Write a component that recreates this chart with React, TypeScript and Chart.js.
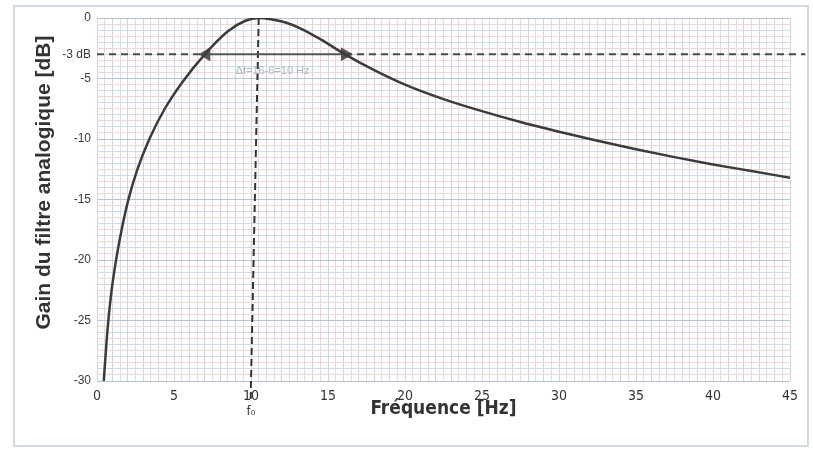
import React, { useEffect, useRef } from "react";
import { Chart, registerables } from "chart.js";

Chart.register(...registerables);

// ---- Data ----
const freqHz = [
  0.44, 0.55, 0.7, 0.9, 1.2, 1.6, 2.0, 2.6, 3.4, 4.4, 5.6, 7.0, 8.5, 9.6, 10.5,
  11.3, 12.2, 13.2, 14.5, 16.1, 18, 20, 22.5, 25, 27.5, 30, 32.5, 35, 37.5, 40, 42.5, 45,
];
const gainDb = [
  -30, -28, -25.5, -23, -20.3, -17.5, -15.2, -12.6, -10, -7.5, -5.2, -3, -1.1, -0.25, 0,
  -0.1, -0.35, -0.85, -1.75, -3, -4.3, -5.5, -6.7, -7.7, -8.6, -9.4, -10.15, -10.85, -11.5, -12.1, -12.65, -13.2,
];

const xTickValues = [0, 5, 10, 15, 20, 25, 30, 35, 40, 45];
const yTickValues = [0, -3, -5, -10, -15, -20, -25, -30];
const yTickLabels = ["0", "-3 dB", "-5", "-10", "-15", "-20", "-25", "-30"];

const cutoffDb = -3;
const lowCutHz = 7.1;
const highCutHz = 16.1;
const dashEndHz = 46;
const peakHz = 10.5;
const peakDb = 0;
const f0BaseHz = 10.0;
const f0TailHz = 9.98;
const f0TailDb = -31.7;
const bandwidthLabel = "Δf=16-6=10 Hz";
const bandwidthLabelPos = { x: 11.4, y: -4.4 };

const X_TITLE = "Fréquence [Hz]";
const Y_TITLE = "Gain du filtre analogique [dB]";

const NARROW = "'Liberation Sans Narrow', 'DejaVu Sans Condensed', 'Liberation Sans', sans-serif";
const SANS = "'Liberation Sans', Arial, sans-serif";

const extrasPlugin = {
  id: "extras",
  beforeDraw(chart: any) {
    const { ctx } = chart;
    ctx.save();
    ctx.fillStyle = "#ffffff";
    ctx.fillRect(0, 0, chart.width, chart.height);
    ctx.strokeStyle = "#d4dae1";
    ctx.lineWidth = 2;
    ctx.strokeRect(14, 6, 794, 440);
    ctx.restore();
  },
  afterDraw(chart: any) {
    const { ctx, chartArea, scales } = chart;
    const xs = scales.x;
    const ys = scales.y;
    ctx.save();
    // y title
    ctx.translate(44, (chartArea.top + chartArea.bottom) / 2 - 17);
    ctx.rotate(-Math.PI / 2);
    ctx.font = "bold 21px " + SANS;
    ctx.fillStyle = "#333333";
    ctx.textAlign = "center";
    ctx.textBaseline = "middle";
    ctx.fillText(Y_TITLE, 0, 0);
    ctx.restore();

    ctx.save();
    // f0 label
    ctx.font = "13px " + NARROW;
    ctx.fillStyle = "#333333";
    ctx.textAlign = "center";
    ctx.textBaseline = "middle";
    ctx.fillText("f₀", xs.getPixelForValue(f0BaseHz), chartArea.bottom + 31);
    // bandwidth label
    ctx.font = "11px " + SANS;
    ctx.fillStyle = "#aab6c6";
    ctx.fillText(
      bandwidthLabel,
      xs.getPixelForValue(bandwidthLabelPos.x),
      ys.getPixelForValue(bandwidthLabelPos.y)
    );
    ctx.restore();
  },
};

export default function App() {
  const ref = useRef<HTMLCanvasElement | null>(null);

  useEffect(() => {
    if (!ref.current) return;
    const curve = freqHz.map((x, i) => ({ x, y: gainDb[i] }));
    const chart = new Chart(ref.current, {
      type: "line",
      data: {
        datasets: [
          {
            data: curve,
            borderColor: "#3b3b3b",
            borderWidth: 2.5,
            pointRadius: 0,
            cubicInterpolationMode: "monotone",
            fill: false,
          },
          {
            data: [
              { x: 0, y: cutoffDb },
              { x: lowCutHz, y: cutoffDb },
              { x: (lowCutHz + highCutHz) / 2, y: null },
              { x: highCutHz, y: cutoffDb },
              { x: dashEndHz, y: cutoffDb },
            ],
            borderColor: "#4a4a4a",
            borderWidth: 2,
            borderDash: [7, 5],
            pointRadius: 0,
            spanGaps: false,
            clip: false,
          },
          {
            data: [
              { x: lowCutHz, y: cutoffDb },
              { x: highCutHz, y: cutoffDb },
            ],
            borderColor: "#555555",
            backgroundColor: "#555555",
            borderWidth: 2,
            pointStyle: "triangle",
            pointRadius: 6,
            pointRotation: (c: any) => (c.dataIndex === 0 ? -90 : 90),
          },
          {
            data: [
              { x: peakHz, y: peakDb },
              { x: f0BaseHz, y: -30 },
              { x: f0TailHz, y: f0TailDb },
            ],
            borderColor: "#333333",
            borderWidth: 2,
            borderDash: [7, 4],
            pointRadius: 0,
            clip: false,
          },
        ],
      },
      options: {
        animation: false,
        responsive: false,
        events: [],
        layout: { padding: { left: 0, top: 18, right: 23, bottom: 0 } },
        plugins: { legend: { display: false }, tooltip: { enabled: false }, title: { display: false } },
        scales: {
          x: {
            type: "linear",
            min: 0,
            max: 45,
            afterBuildTicks: (s: any) => {
              const t = [];
              for (let i = 0; i <= 90; i++) t.push({ value: i / 2 });
              s.ticks = t;
            },
            afterFit: (s: any) => {
              s.height = 78;
            },
            border: { display: false },
            grid: {
              drawTicks: false,
              lineWidth: 1,
              color: (c: any) =>
                c.tick && Number.isInteger(c.tick.value) ? "#c9d6e6" : "#f1d6dc",
            },
            ticks: {
              autoSkip: false,
              maxRotation: 0,
              padding: 7,
              color: "#333333",
              font: { family: NARROW, size: 14 },
              callback: (v: any) => (xTickValues.includes(v) ? String(v) : ""),
            },
            title: {
              display: true,
              text: X_TITLE,
              color: "#333333",
              font: { family: NARROW, size: 19, weight: "bold" },
              padding: { top: 0, bottom: 39 },
            },
          },
          y: {
            type: "linear",
            min: -30,
            max: 0,
            afterBuildTicks: (s: any) => {
              const t = [];
              for (let i = -60; i <= 0; i++) t.push({ value: i / 2 });
              s.ticks = t;
            },
            afterFit: (s: any) => {
              s.width = 97;
            },
            border: { display: false },
            grid: {
              drawTicks: false,
              lineWidth: 1,
              color: (c: any) => {
                const v = c.tick ? c.tick.value : 0;
                if (v % 5 === 0) return "#b5c3d4";
                if (Number.isInteger(v)) return "#d0dbe8";
                return "#f1d5dc";
              },
            },
            ticks: {
              autoSkip: false,
              padding: 6,
              color: "#3a3a3a",
              font: { family: SANS, size: 12 },
              callback: (v: any) => {
                const i = yTickValues.indexOf(v);
                return i >= 0 ? yTickLabels[i] : "";
              },
            },
            title: { display: false },
          },
        },
      },
      plugins: [extrasPlugin],
    } as any);
    return () => chart.destroy();
  }, []);

  return (
    <canvas
      ref={ref}
      width={813}
      height={459}
      style={{ position: "absolute", left: 0, top: 0, width: 813, height: 459 }}
    />
  );
}
